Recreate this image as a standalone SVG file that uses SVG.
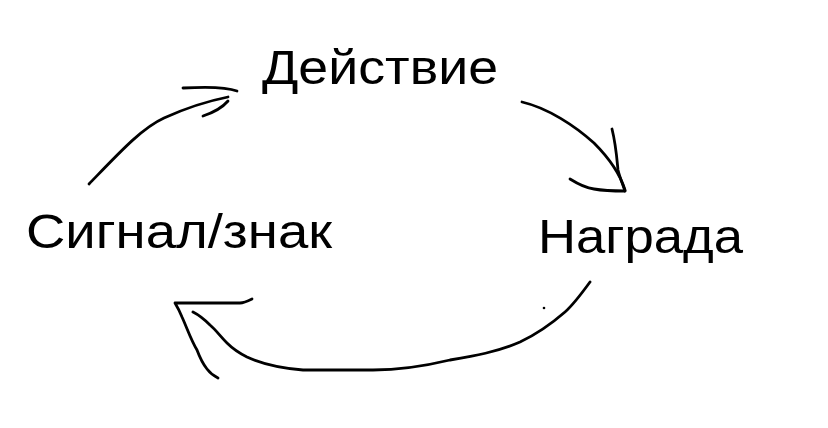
<svg xmlns="http://www.w3.org/2000/svg" width="828" height="428" viewBox="0 0 828 428">
<style>
.lbl{font-family:"Liberation Sans",Arial,Helvetica,sans-serif;font-size:48px;fill:#000}
.ink{fill:none;stroke:#000;stroke-width:2.8;stroke-linecap:round;stroke-linejoin:round}
</style>
<rect width="828" height="428" fill="#fff"/>
<g id="node-action"><text class="lbl" x="262" y="84" textLength="236" lengthAdjust="spacingAndGlyphs">Действие</text></g>
<g id="node-reward"><text class="lbl" x="538" y="253" textLength="205" lengthAdjust="spacingAndGlyphs">Награда</text></g>
<g id="node-signal"><text class="lbl" x="26" y="248" textLength="306" lengthAdjust="spacingAndGlyphs">Сигнал/знак</text></g>
<g id="connectors">
<g id="signal-to-action">
<path class="ink" d="M89,184 C120,152 142,128 164,118 C186,108 208,101 228,97"/>
<path class="ink" d="M183,88 C200,87 224,86 237,91"/>
<path class="ink" stroke-width="3.5" d="M203,116 C212,113 222,108 228,101"/>
</g>
<g id="action-to-reward">
<path class="ink" d="M522,102 C548,108 575,126 594,143 C608,157 620,174 625,190"/>
<path class="ink" d="M612,129 C616,145 617,160 618,170 C620,178 623,185 625,191"/>
<path class="ink" d="M570,179 C578,184 586,188 594,189 C605,191 616,191 625,191"/>
</g>
<g id="reward-to-signal">
<path class="ink" d="M590,282 C582,293 574,304 565,312 C550,325 535,335 520,342 C497,352 474,356 450,360 C425,366 398,370 373,370 L303,370 C280,368 260,363 247,357 C237,352 232,348 227,343 C220,336 216,330 210,325 C204,319 199,315 193,312"/>
<path class="ink" d="M252,299 C248,301 244,303 240,303 L175,303 C178,308 180,312 182,317 C187,328 191,340 197,350 C200,358 203,364 207,369 C210,373 214,376 218,378"/>
<circle cx="544" cy="308" r="1.3" fill="#000"/>
</g>
</g>
</svg>
